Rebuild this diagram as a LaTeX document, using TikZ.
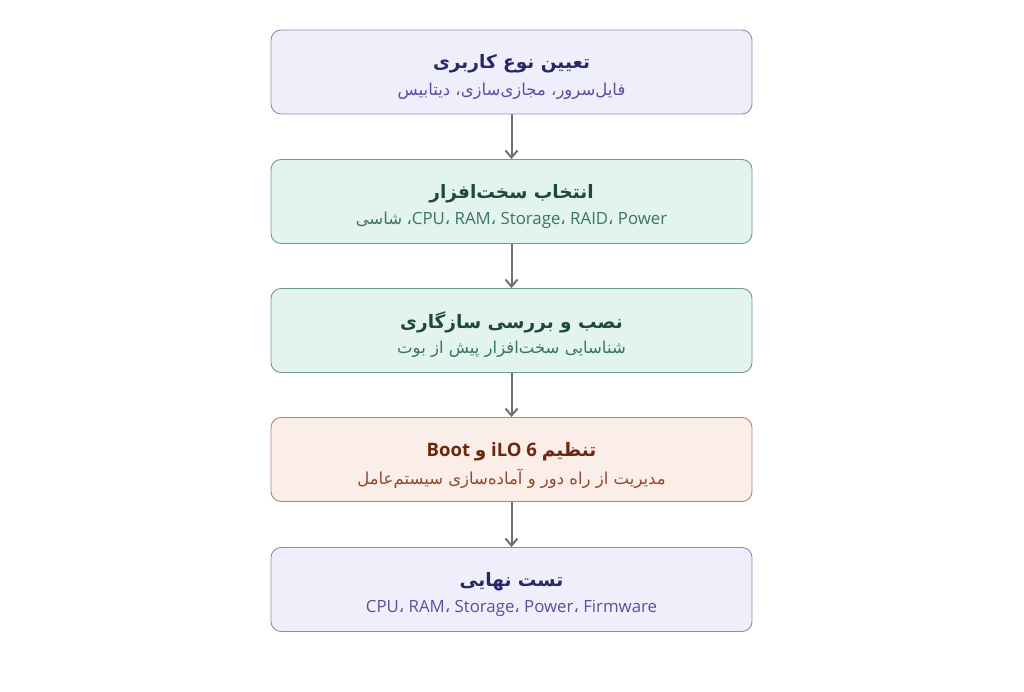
\documentclass[tikz,border=0pt]{standalone}
\usepackage{fontspec}
\setmainfont{Open Sans}
\newfontfamily\ar[Script=Arabic]{DejaVu Sans}
\newfontfamily\la{Open Sans}
\TeXXeTstate=1
\usetikzlibrary{arrows.meta}
\definecolor{lavfill}{HTML}{EFEEFB}
\definecolor{lavdraw}{HTML}{8E8BB5}
\definecolor{lavtitle}{HTML}{2B2766}
\definecolor{lavsub}{HTML}{5B4F9E}
\definecolor{grnfill}{HTML}{E2F4EC}
\definecolor{grndraw}{HTML}{6A9E86}
\definecolor{grntitle}{HTML}{1E4A38}
\definecolor{grnsub}{HTML}{3C7560}
\definecolor{pchfill}{HTML}{FBEDE7}
\definecolor{pchdraw}{HTML}{B08676}
\definecolor{pchtitle}{HTML}{6B2810}
\definecolor{pchsub}{HTML}{8E4A2E}
\definecolor{arrowgray}{HTML}{707070}
\newcommand{\arsub}{\fontsize{16.5}{19}\selectfont}
\tikzset{
  stepbox/.style={draw, rounded corners=10pt, line width=0.9pt, minimum width=481pt, minimum height=84pt, inner sep=0pt},
  lav/.style={stepbox, fill=lavfill, draw=lavdraw},
  grn/.style={stepbox, fill=grnfill, draw=grndraw},
  pch/.style={stepbox, fill=pchfill, draw=pchdraw},
  ttl/.style={inner sep=0pt, font=\fontsize{18.5}{21}\selectfont\bfseries},
  sub/.style={inner sep=0pt, font=\fontsize{16.8}{19}\selectfont},
  flow/.style={draw=arrowgray, line width=2pt, -{Straight Barb[length=7pt,width=12pt,line width=2pt]}}
}
\begin{document}
\begin{tikzpicture}[x=1pt,y=-1pt]
\useasboundingbox (0,0) rectangle (1024,692);
\fill[white] (0,0) rectangle (1024,692);

\node[lav] (b1) at (511.5,72) {};
\node[grn] (b2) at (511.5,201.5) {};
\node[grn] (b3) at (511.5,330.5) {};
\node[pch] (b4) at (511.5,459.5) {};
\node[lav] (b5) at (511.5,589.5) {};

\node[ttl, text=lavtitle] (t1) at ([yshift=-34.5pt]b1.north) {\ar\beginR تعیین نوع کاربری\endR};
\node[sub, text=lavsub] (s1) at ([yshift=-61.5pt]b1.north) {\ar\arsub\beginR فایل^^^^200cسرور، مجازی^^^^200cسازی، دیتابیس\endR};

\node[ttl, text=grntitle] (t2) at ([yshift=-34.5pt]b2.north) {\ar\beginR انتخاب سخت^^^^200cافزار\endR};
\node[sub, text=grnsub] (s2) at ([yshift=-61.5pt]b2.north) {{\ar\arsub\beginR شاسی\endR} {\ar،}CPU{\ar،} RAM{\ar،} Storage{\ar،} RAID{\ar،} Power};

\node[ttl, text=grntitle] (t3) at ([yshift=-34.5pt]b3.north) {\ar\beginR نصب و بررسی سازگاری\endR};
\node[sub, text=grnsub] (s3) at ([yshift=-61.5pt]b3.north) {\ar\arsub\beginR شناسایی سخت^^^^200cافزار پیش از بوت\endR};

\node[ttl, text=pchtitle] (t4) at ([yshift=-34.5pt]b4.north) {Boot {\ar\beginR و\endR} iLO 6 {\ar\beginR تنظیم\endR}};
\node[sub, text=pchsub] (s4) at ([yshift=-61.5pt]b4.north) {\ar\arsub\beginR مدیریت از راه دور و آماده^^^^200cسازی سیستم^^^^200cعامل\endR};

\node[ttl, text=lavtitle] (t5) at ([yshift=-34.5pt]b5.north) {\ar\beginR تست نهایی\endR};
\node[sub, text=lavsub] (s5) at ([yshift=-61.5pt]b5.north) {CPU{\ar،} RAM{\ar،} Storage{\ar،} Power{\ar،} Firmware};

\draw[flow] (b1) -- (b2);
\draw[flow] (b2) -- (b3);
\draw[flow] (b3) -- (b4);
\draw[flow] (b4) -- (b5);
\end{tikzpicture}
\end{document}
